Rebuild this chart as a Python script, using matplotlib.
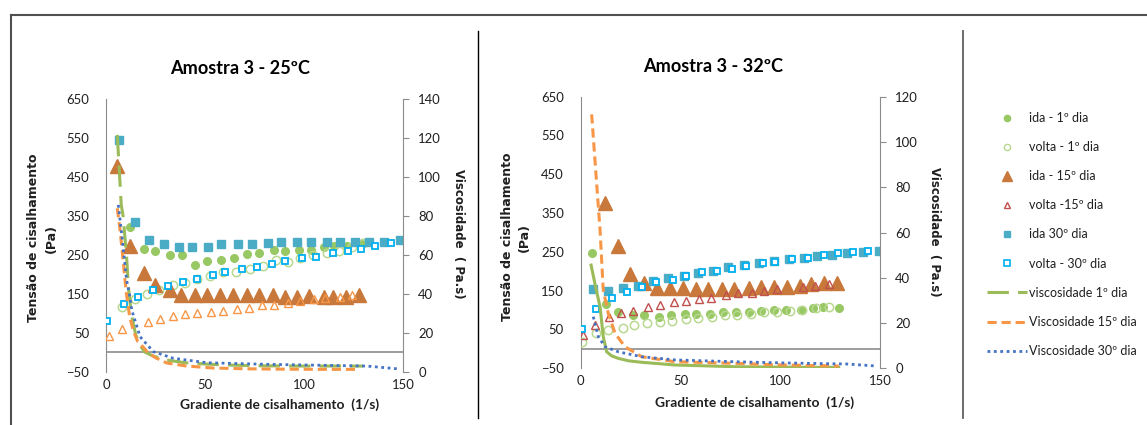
import matplotlib
matplotlib.use("Agg")
import matplotlib.pyplot as plt
from matplotlib import font_manager
from matplotlib.lines import Line2D

# ---- data (x = shear rate 1/s, y = stress Pa, visc = Pa.s)

# Amostra 3 - 25ºC
ida1_25_x = [12.3, 19.4, 24.9, 32.4, 38.4, 45.2, 51.2, 58.3, 64.4, 71.1, 77.4, 84.6, 90.5, 97.4, 103.7, 110.2, 115.1, 121.9, 129.3]
ida1_25_y = [322, 266, 259, 249, 249, 224, 234, 238, 241, 252, 256, 263, 259, 263, 263, 270, 274, 274, 277]
volta1_25_x = [8.1, 14.5, 20.5, 26.8, 33.7, 40.0, 46.2, 52.5, 59.1, 65.7, 72.9, 79.1, 85.7, 91.8, 98.2, 104.5, 111.6, 117.8, 124.4, 130.0]
volta1_25_y = [117, 138, 150, 160, 172, 178, 188, 196, 205, 206, 214, 221, 236, 232, 242, 251, 256, 260, 270, 281]
ida15_25_x = [5.7, 12.3, 19.0, 24.9, 32.4, 37.9, 45.2, 51.2, 57.6, 64.0, 71.1, 77.4, 84.1, 90.2, 96.7, 102.6, 110.2, 114.4, 121.0, 127.8]
ida15_25_y = [479, 274, 203, 173, 160, 147, 147, 147, 147, 147, 147, 147, 147, 143, 143, 145, 143, 143, 143, 147]
volta15_25_x = [1.7, 8.1, 21.2, 27.3, 33.7, 40.1, 46.2, 52.8, 59.0, 66.1, 72.1, 79.0, 85.0, 91.7, 97.9, 104.8, 110.7, 118.3, 124.2]
volta15_25_y = [42, 61, 79, 86, 93, 97, 100, 104, 107, 110, 114, 121, 121, 127, 131, 136, 139, 143, 147]
ida30_25_x = [6.7, 14.5, 21.7, 29.5, 36.7, 43.3, 51.7, 58.3, 66.6, 73.5, 81.6, 88.3, 96.7, 103.3, 111.7, 118.0, 125.6, 132.8, 140.6, 148.7]
ida30_25_y = [545, 335, 288, 278, 271, 271, 271, 277, 277, 277, 282, 284, 284, 284, 284, 284, 284, 284, 284, 288]
volta30_25_x = [0.5, 9.1, 16.2, 23.9, 31.2, 38.8, 46.2, 53.9, 60.2, 68.9, 76.2, 83.8, 90.2, 98.9, 106.0, 114.4, 122.2, 128.8, 136.0, 143.9]
volta30_25_y = [81, 124, 142, 160, 171, 181, 188, 198, 205, 213, 220, 228, 234, 241, 246, 256, 259, 266, 274, 281]
visc1_25_x = [5.7, 7.7, 8.7, 10.5, 11.3, 12.7, 15.0, 17.2, 19.7, 23.9, 30.6, 40.0, 51.0, 59.0, 70.0, 81.0, 100.0, 115.0, 129.8]
visc1_25_y = [121.7, 85.7, 79.7, 57.4, 43.7, 30.0, 19.0, 13.5, 10.0, 8.0, 6.0, 4.6, 3.9, 3.5, 3.2, 3.0, 2.9, 2.9, 2.9]
visc15_25_x = [5.7, 7.1, 8.8, 9.6, 10.5, 12.0, 13.8, 16.0, 18.9, 21.0, 25.0, 30.6, 40.0, 54.0, 70.0, 90.0, 110.0, 127.6]
visc15_25_y = [84.0, 72.8, 55.7, 47.0, 38.5, 28.0, 21.0, 15.5, 12.5, 10.0, 7.2, 4.5, 3.0, 1.9, 1.5, 1.3, 1.2, 1.2]
visc30_25_x = [6.2, 7.9, 10.4, 12.1, 13.0, 17.2, 23.9, 34.0, 51.0, 81.0, 131.8, 147.0]
visc30_25_y = [85.7, 71.0, 47.0, 38.5, 31.7, 18.0, 10.3, 6.9, 4.6, 3.8, 2.9, 1.5]

# Amostra 3 - 32ºC
ida1_32_x = [5.5, 12.7, 18.7, 26.1, 31.9, 39.1, 45.1, 52.3, 58.0, 64.8, 71.2, 77.8, 84.2, 90.2, 96.9, 102.9, 110.2, 116.6, 121.6, 129.3]
ida1_32_y = [248, 116, 94, 87, 87, 83, 87, 90, 90, 90, 94, 94, 94, 98, 101, 101, 101, 105, 108, 105]
volta1_32_x = [0.7, 7.9, 13.9, 21.0, 26.9, 33.2, 39.8, 45.6, 52.6, 59.0, 66.0, 72.2, 78.5, 85.2, 91.9, 98.2, 105.1, 110.9, 117.9, 124.6]
volta1_32_y = [19, 40, 49, 55, 62, 66, 69, 73, 77, 80, 83, 87, 87, 90, 94, 94, 98, 101, 105, 108]
ida15_32_x = [12.0, 18.7, 24.7, 31.7, 38.1, 44.8, 51.3, 57.8, 64.0, 71.0, 77.0, 84.3, 90.2, 96.9, 103.6, 109.9, 115.4, 122.1, 128.6]
ida15_32_y = [375, 265, 193, 169, 156, 158, 158, 154, 154, 154, 154, 158, 159, 159, 160, 162, 167, 169, 171]
volta15_32_x = [1.0, 7.3, 14.0, 20.2, 26.4, 33.6, 39.8, 46.8, 52.8, 59.3, 65.3, 72.7, 78.7, 85.7, 91.7, 98.2, 111.2, 117.4, 124.3]
volta15_32_y = [36, 62, 81, 92, 98, 109, 112, 120, 124, 128, 130, 138, 143, 145, 149, 154, 160, 163, 166]
ida30_32_x = [6.3, 13.9, 21.4, 28.9, 36.4, 43.9, 51.8, 59.0, 66.5, 73.7, 81.8, 89.2, 96.9, 104.2, 111.9, 118.6, 126.1, 133.3, 141.3, 149.3]
ida30_32_y = [154, 149, 156, 163, 174, 182, 189, 196, 202, 210, 217, 221, 227, 232, 235, 239, 242, 246, 250, 253]
volta30_32_x = [0.7, 7.7, 15.9, 23.0, 30.6, 37.7, 46.1, 52.8, 60.6, 68.1, 75.7, 82.8, 91.2, 97.4, 105.7, 114.1, 122.1, 129.1, 136.6, 143.8]
volta30_32_y = [52, 102, 130, 147, 159, 173, 178, 189, 197, 202, 207, 214, 221, 225, 232, 235, 242, 246, 250, 253]
visc1_32_x = [5.2, 7.7, 9.7, 11.3, 13.0, 15.5, 18.8, 24.0, 30.6, 47.3, 77.4, 100.0, 129.3]
visc1_32_y = [45.6, 35.0, 27.2, 14.0, 7.3, 5.5, 4.4, 3.3, 2.65, 1.46, 0.7, 0.5, 0.4]
visc15_32_x = [5.5, 7.5, 9.7, 11.3, 13.8, 17.2, 22.2, 30.6, 47.3, 77.4, 100.0, 129.3]
visc15_32_y = [112.2, 87.6, 61.1, 34.6, 24.3, 15.5, 9.5, 5.1, 2.9, 2.2, 1.5, 1.0]
visc30_32_x = [6.3, 8.8, 12.2, 18.8, 30.6, 47.3, 77.4, 100.0, 133.3, 148.3]
visc30_32_y = [22.8, 14.0, 9.5, 7.3, 5.1, 3.7, 2.9, 2.4, 1.9, 1.0]

stress_ticks = list(range(-50, 651, 100))
x_ticks = [0, 50, 100, 150]
legend_labels = ["ida - 1º dia", "volta - 1º dia", "ida - 15º dia", "volta -15º dia",
                 "ida 30º dia", "volta - 30º dia", "viscosidade 1º dia",
                 "Viscosidade 15º dia", "Viscosidade 30º dia"]

installed = {f.name for f in font_manager.fontManager.ttflist}
NARROW = "Liberation Sans Narrow" if "Liberation Sans Narrow" in installed else "Lato"
SCALE = 1.0 if NARROW == "Liberation Sans Narrow" else 0.9
WIDE = "DejaVu Sans"
TXT = "#1f1f1f"
GRAY = "#8c8c8c"

W, H = 1147, 425
fig = plt.figure(figsize=(W / 100, H / 100), dpi=100)


def fx(x):
    return x / W


def fy(y):
    return 1 - y / H


GREEN = "#98c864"
GREEN_OPEN = "#b8d890"
BROWN = "#c8783a"
TEAL = "#4bacc6"
BLUE_OPEN = "#00b0f0"
ORANGE = "#f79646"
RED = "#c0504d"
BLUE_LINE = "#4472c4"
VGREEN = "#9bbb59"


def panel(rect, d, vmax, v15_color, v1_dashes):
    ax = fig.add_axes(rect)
    ax.plot(d["ida1"][0], d["ida1"][1], ls="none", marker="o", ms=5.5,
            mfc=GREEN, mec=GREEN, zorder=3)
    ax.plot(d["volta1"][0], d["volta1"][1], ls="none", marker="o", ms=6,
            mfc="none", mec=GREEN_OPEN, mew=1.1, zorder=3)
    ax.plot(d["ida15"][0], d["ida15"][1], ls="none", marker="^", ms=9.5,
            mfc=BROWN, mec=BROWN, zorder=3)
    ax.plot(d["volta15"][0], d["volta15"][1], ls="none", marker="^", ms=6,
            mfc="none", mec=v15_color, mew=1.0, zorder=3)
    ax.plot(d["ida30"][0], d["ida30"][1], ls="none", marker="s", ms=6,
            mfc=TEAL, mec=TEAL, zorder=3)
    ax.plot(d["volta30"][0], d["volta30"][1], ls="none", marker="s", ms=5,
            mfc="white", mec=BLUE_OPEN, mew=1.3, zorder=3)

    ax.set_xlim(0, 150)
    ax.set_ylim(-50, 650)
    ax.set_xticks(x_ticks)
    ax.set_yticks(stress_ticks)
    for s in ["top", "right", "bottom"]:
        ax.spines[s].set_visible(False)
    ax.spines["left"].set_color(GRAY)
    ax.axhline(0, color=GRAY, lw=1.2, zorder=1)
    ax.tick_params(axis="y", length=0, pad=12, labelsize=10.5 * SCALE, labelcolor=TXT)
    ax.tick_params(axis="x", length=0, pad=5, labelsize=10.5 * SCALE, labelcolor=TXT)
    for lab in ax.get_xticklabels() + ax.get_yticklabels():
        lab.set_family(NARROW)

    ax2 = ax.twinx()
    l1, = ax2.plot(d["visc1"][0], d["visc1"][1], color=VGREEN, lw=2.2)
    if v1_dashes:
        l1.set_dashes(v1_dashes)
    ax2.plot(d["visc15"][0], d["visc15"][1], color=ORANGE, lw=2.2, dashes=(3, 1.6))
    ax2.plot(d["visc30"][0], d["visc30"][1], color=BLUE_LINE, lw=2, dashes=(1, 1.3))
    ax2.set_ylim(0, vmax)
    ax2.set_yticks(list(range(0, vmax + 1, 20)))
    for s in ["top", "left", "bottom"]:
        ax2.spines[s].set_visible(False)
    ax2.spines["right"].set_color(GRAY)
    ax2.tick_params(axis="y", length=4, color=GRAY, pad=7, labelsize=10.5 * SCALE,
                    labelcolor=TXT)
    for lab in ax2.get_yticklabels():
        lab.set_family(NARROW)
    return ax, ax2


d25 = {
    "ida1": (ida1_25_x, ida1_25_y), "volta1": (volta1_25_x, volta1_25_y),
    "ida15": (ida15_25_x, ida15_25_y), "volta15": (volta15_25_x, volta15_25_y),
    "ida30": (ida30_25_x, ida30_25_y), "volta30": (volta30_25_x, volta30_25_y),
    "visc1": (visc1_25_x, visc1_25_y), "visc15": (visc15_25_x, visc15_25_y),
    "visc30": (visc30_25_x, visc30_25_y),
}
d32 = {
    "ida1": (ida1_32_x, ida1_32_y), "volta1": (volta1_32_x, volta1_32_y),
    "ida15": (ida15_32_x, ida15_32_y), "volta15": (volta15_32_x, volta15_32_y),
    "ida30": (ida30_32_x, ida30_32_y), "volta30": (volta30_32_x, volta30_32_y),
    "visc1": (visc1_32_x, visc1_32_y), "visc15": (visc15_32_x, visc15_32_y),
    "visc30": (visc30_32_x, visc30_32_y),
}

panel([fx(106), fy(371.7), 297 / W, 272.4 / H], d25, 140, ORANGE, (7, 3))
panel([fx(580.7), fy(368.3), 299.3 / W, 271.6 / H], d32, 120, RED, None)

# titles and axis titles
fig.text(fx(240), fy(68), "Amostra 3 - 25ºC", ha="center", va="center",
         family=NARROW, weight="bold", fontsize=14.5 * SCALE, color="black")
fig.text(fx(713), fy(67), "Amostra 3 - 32ºC", ha="center", va="center",
         family=NARROW, weight="bold", fontsize=14.5 * SCALE, color="black")

for cx, cy in [(42.5, 238), (516, 237)]:
    fig.text(fx(cx), fy(cy), "Tensão de cisalhamento\n(Pa)", rotation=90,
             ha="center", va="center", multialignment="center", linespacing=1.45,
             family=WIDE, weight="bold", fontsize=9, color=TXT)
for cx, cy in [(458, 234), (935, 232)]:
    fig.text(fx(cx), fy(cy), "Viscosidade  ( Pa.s)", rotation=-90,
             ha="center", va="center", family=WIDE, weight="bold", fontsize=8.5,
             color=TXT)
for cx, cy in [(280, 405), (755, 403)]:
    fig.text(fx(cx), fy(cy), "Gradiente de cisalhamento  (1/s)", ha="center",
             va="center", family=NARROW, weight="bold", fontsize=11 * SCALE, color=TXT)

# legend
handles = [
    Line2D([], [], ls="none", marker="o", ms=4.5, mfc=GREEN, mec=GREEN),
    Line2D([], [], ls="none", marker="o", ms=4.5, mfc="none", mec=GREEN_OPEN, mew=1),
    Line2D([], [], ls="none", marker="^", ms=7.5, mfc=BROWN, mec=BROWN),
    Line2D([], [], ls="none", marker="^", ms=5, mfc="none", mec=RED, mew=1),
    Line2D([], [], ls="none", marker="s", ms=4.5, mfc=TEAL, mec=TEAL),
    Line2D([], [], ls="none", marker="s", ms=4.5, mfc="white", mec=BLUE_OPEN, mew=1.2),
    Line2D([], [], color=VGREEN, lw=2.2, dashes=(7, 3)),
    Line2D([], [], color=ORANGE, lw=2.2, dashes=(3, 1.6)),
    Line2D([], [], color=BLUE_LINE, lw=2, dashes=(1, 1.3)),
]
fig.legend(handles, legend_labels, loc="upper left",
           bbox_to_anchor=(fx(987), fy(112)), frameon=False, borderpad=0,
           borderaxespad=0, handlelength=3.2, handletextpad=0.15,
           labelspacing=1.37, prop={"family": NARROW, "size": 10 * SCALE},
           labelcolor=TXT)

# frame lines of the pasted excel block
fig.add_artist(Line2D([fx(11), 1], [fy(15), fy(15)], color="#505050", lw=1.5))
fig.add_artist(Line2D([fx(11), fx(11)], [fy(15), 0], color="#505050", lw=1.5))
fig.add_artist(Line2D([fx(477.7), fx(477.7)], [fy(31), fy(418)], color="black", lw=1))
fig.add_artist(Line2D([fx(962.7), fx(962.7)], [fy(31), fy(418)], color="#606060", lw=1.3))

fig.savefig("out.png", dpi=100)
